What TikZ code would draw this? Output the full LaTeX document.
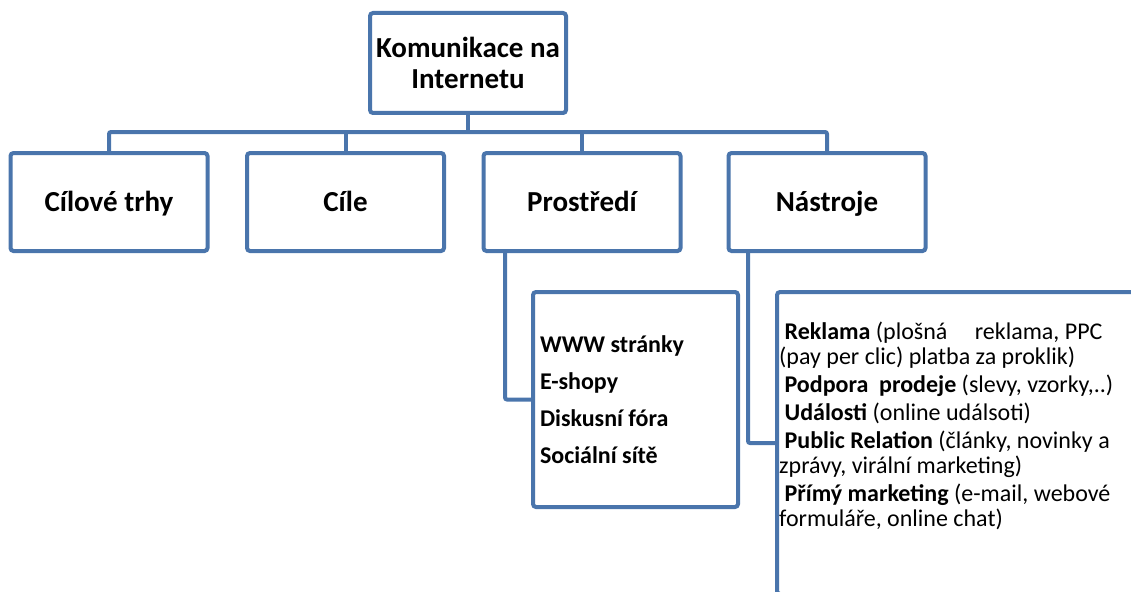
\documentclass[tikz,border=0pt]{standalone}
\usepackage{fontspec}
\setmainfont{Carlito}
\usepackage{tikz}
\usetikzlibrary{positioning, calc}
\definecolor{orgblue}{RGB}{74, 117, 172}
\tikzstyle{box} = [rectangle, draw=orgblue, fill=white, line width=4pt, rounded corners=3pt, minimum width=197pt, minimum height=98pt, inner sep=0pt, outer sep=0pt, align=center, text height=24pt, text depth=6pt, font=\fontsize{29}{31}\selectfont\bfseries]
\tikzstyle{listbox} = [rectangle, draw=orgblue, fill=white, line width=4pt, rounded corners=3pt, outer sep=0pt]
\tikzstyle{link} = [draw=orgblue, line width=4pt, rounded corners=2pt]

\begin{document}
\begin{tikzpicture}[x=1pt, y=-1pt]
    \useasboundingbox (0,0) rectangle (1131,591);

    % Root node
    \node[box, minimum width=196pt, minimum height=100pt, text height=, text depth=] (root) at (468,63) {Komunikace na\\Internetu};

    % Second level
    \node[box] (trhy) at (109,202) {Cílové trhy};
    \node[box] (cile) at (345.5,202) {Cíle};
    \node[box] (prostredi) at (582,202) {Prostředí};
    \node[box] (nastroje) at (827,202) {Nástroje};

    % Bus
    \coordinate (bus) at (0,132);
    \draw[link] (trhy.north) |- (nastroje.north |- bus) -- (nastroje.north);
    \draw[link] (root.south) -- (root.south |- bus);
    \draw[link] (cile.north) -- (cile.north |- bus);
    \draw[link] (prostredi.north) -- (prostredi.north |- bus);

    % Lists
    \node[listbox, minimum width=205pt, minimum height=215pt, inner xsep=7pt, text width=191pt, align=flush left,
          font=\fontsize{24}{37}\selectfont\bfseries] (prostredilist) at (635.5,399.5) {%
        WWW stránky\\
        E-shopy\\
        Diskusní fóra\\
        Sociální sítě%
    };

    \node[listbox, anchor=north west, minimum width=380pt, minimum height=302pt] (nastrojelist) at (777,292) {};
    \node[anchor=north west, inner sep=0pt, text width=334pt, align=flush left,
          font=\fontsize{24}{25}\selectfont] (nastrojetext) at (779,322) {%
        \ \textbf{Reklama} (plošná\hspace{22pt} reklama, PPC\\(pay per clic) platba za proklik)\par\vspace{3pt}
        \ \textbf{Podpora\ \ prodeje} (slevy, vzorky,..)\par\vspace{3pt}
        \ \textbf{Události} (online událsoti)\par\vspace{3pt}
        \ \textbf{Public Relation} (články, novinky a\\zprávy, virální marketing)\par\vspace{3pt}
        \ \textbf{Přímý marketing} (e-mail, webové\\formuláře, online chat)%
    };

    % Branches
    \draw[link] ([xshift=-77pt]prostredi.south) |- (prostredilist.west);
    \draw[link] ([xshift=-79pt]nastroje.south) |- (nastrojelist.west);
\end{tikzpicture}
\end{document}
